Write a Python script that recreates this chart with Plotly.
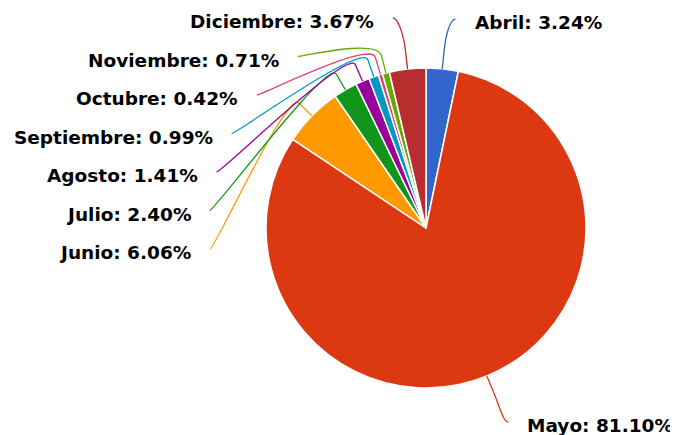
import math
import plotly.graph_objects as go

# ---- data ----
months = ["Abril", "Mayo", "Junio", "Julio", "Agosto", "Septiembre",
          "Octubre", "Noviembre", "Diciembre"]
shares = [3.24, 81.10, 6.06, 2.40, 1.41, 0.99, 0.42, 0.71, 3.67]
colors = ["#3366CC", "#DC3912", "#FF9900", "#109618", "#990099",
          "#0099C6", "#DD4477", "#66AA00", "#B82E2E"]

# ---- layout constants (page body has an 8px margin) ----
OFF = 8
W, H = 678 - OFF, 435 - OFF
CX, CY, R = 426 - OFF, 228 - OFF, 160
LEFT_RX, LEFT_RY = 217, 212.5
RIGHT_R = 211
RIGHT_Y_R = 210
LEFT_TOP, LEFT_STEP = 18 - OFF, 38.5
FONT = dict(family="DejaVu Sans", size=18.5, color="#000000", weight="bold")


def px(x):
    return x / W


def py(y):
    return 1 - y / H


fig = go.Figure(go.Pie(
    labels=months, values=shares, sort=False, direction="clockwise",
    rotation=0, textinfo="none", hoverinfo="label+percent",
    marker=dict(colors=colors, line=dict(color="#FFFFFF", width=1.5)),
    domain=dict(x=[px(CX - R), px(CX + R)], y=[py(CY + R), py(CY - R)]),
    showlegend=False,
))

total = sum(shares)
angles = []
cum = 0
for v in shares:
    angles.append(2 * math.pi * (cum + v / 2) / total)
    cum += v


def pt(theta, r):
    return CX + r * math.sin(theta), CY - r * math.cos(theta)


# left-side labels are stacked from the top, ordered by angle
left_idx = sorted([i for i, t in enumerate(angles) if t > math.pi],
                  key=lambda i: -angles[i])
ends = {}
for k, i in enumerate(left_idx):
    y = LEFT_TOP + LEFT_STEP * k
    f = max(1 - ((y - CY) / LEFT_RY) ** 2, 0)
    x = CX - LEFT_RX * math.sqrt(f)
    ends[i] = (x, y, "left")
for i, t in enumerate(angles):
    if t <= math.pi:
        y = CY - RIGHT_Y_R * math.cos(t)
        x = CX + math.sqrt(max(RIGHT_R ** 2 - (y - CY) ** 2, 0))
        ends[i] = (x, y, "right")

shapes = []
annotations = []
for i, t in enumerate(angles):
    ex, ey = pt(t, R)
    bx, by = pt(t, R + 18)
    c1x, c1y = pt(t, R + 36)
    lx, ly, side = ends[i]
    sgn = -1 if side == "left" else 1
    c2x, c2y = lx - 5 * sgn, ly
    path = (f"M {px(ex)} {py(ey)} L {px(bx)} {py(by)} "
            f"C {px(c1x)} {py(c1y)} {px(c2x)} {py(c2y)} {px(lx)} {py(ly)}")
    shapes.append(dict(type="path", path=path, xref="paper", yref="paper",
                       line=dict(color=colors[i], width=1.3)))
    annotations.append(dict(
        x=px(lx + 17 * sgn), y=py(ly + 3.5), xref="paper", yref="paper",
        text=f"{months[i]}: {shares[i]:.2f}%", showarrow=False,
        xanchor="left" if side == "right" else "right", yanchor="middle",
        font=FONT))

fig.update_layout(width=W, height=H, margin=dict(l=0, r=0, t=0, b=0),
                  paper_bgcolor="#FFFFFF", plot_bgcolor="#FFFFFF",
                  shapes=shapes, annotations=annotations)
fig.write_html("out.html")
